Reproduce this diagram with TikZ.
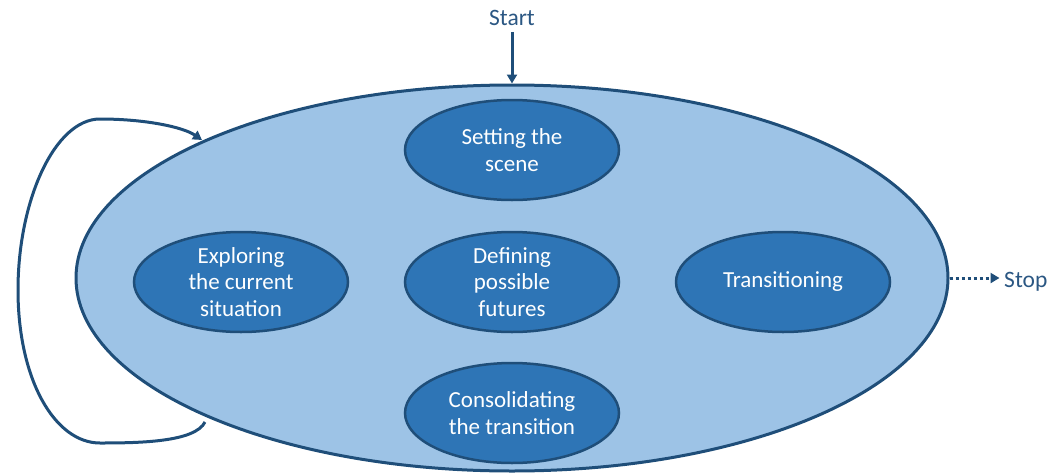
\documentclass[tikz,border=0pt]{standalone}
\usepackage{fontspec}
\setmainfont{Carlito}
\usetikzlibrary{shapes.geometric,arrows.meta}
\definecolor{outerfill}{HTML}{9DC3E6}
\definecolor{innerfill}{HTML}{2E75B6}
\definecolor{darkline}{HTML}{1F4E79}
\definecolor{labeltext}{HTML}{2B5783}
\begin{document}
\begin{tikzpicture}[x=1pt,y=-1pt,
  outer/.style={ellipse, draw=darkline, line width=3pt, fill=outerfill,
    minimum width=872pt, minimum height=386pt, inner sep=0pt},
  stage/.style={ellipse, draw=darkline, line width=2.5pt, fill=innerfill,
    minimum width=214pt, minimum height=100pt, inner sep=0pt, text=white,
    align=center, font=\fontsize{23}{26.5}\selectfont},
  lbl/.style={text=labeltext, font=\fontsize{23.5}{27}\selectfont, inner sep=2pt},
  conn/.style={draw=darkline, line width=3pt, -{Triangle[length=9pt,width=10pt]}}
]
\useasboundingbox (0,0) rectangle (1062,474);
\node[outer] (big) at (512,278) {};
\node[stage] (scene) at (512,150) {Setting the\\scene};
\node[stage] (explore) at (241,282) {Exploring\\the current\\situation};
\node[stage] (futures) at (512,282) {Defining\\possible\\futures};
\node[stage] (trans) at (783,282) {Transitioning};
\node[stage] (consol) at (512,413) {Consolidating\\the transition};
\node[lbl] (start) at (512,18) {Start};
\node[lbl, anchor=west] (stop) at (1002,282) {Stop};
\draw[conn] (start.south) ++(0,4) coordinate (startfoot) (startfoot) -- (big.north);
\draw[conn, dash pattern=on 3pt off 3pt] (big.east) -- ++(50,0) coordinate (stopend);
\coordinate (loopout) at (205,422);
\coordinate (loopin) at (202,140);
\draw[conn] (loopout) .. controls (195,442) and (140,443) .. (100,443)
  .. controls (55,443) and (18,380) .. (18,290)
  .. controls (18,200) and (55,119) .. (100,119)
  .. controls (145,119) and (183,127) .. (loopin);
\end{tikzpicture}
\end{document}
